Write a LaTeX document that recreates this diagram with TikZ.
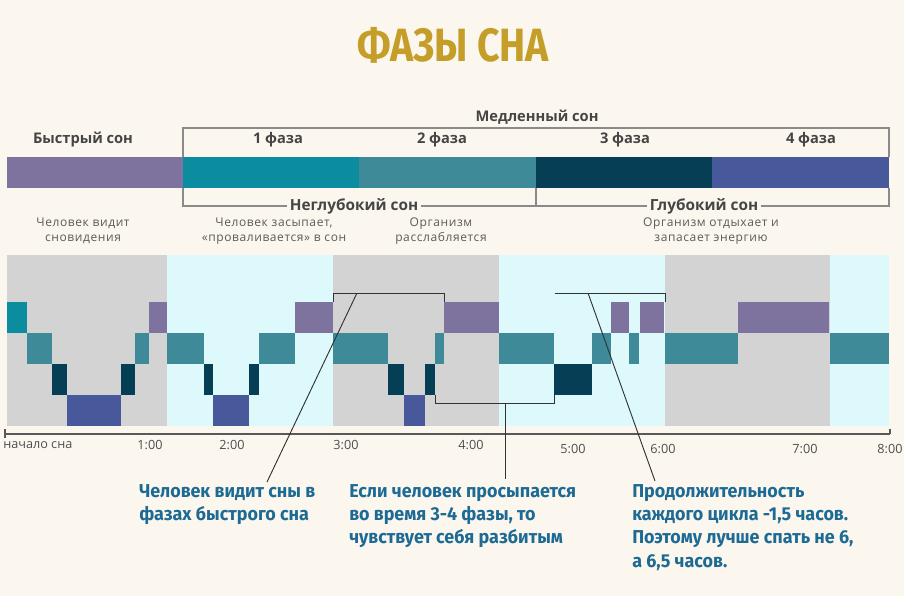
\documentclass[tikz,border=0pt]{standalone}
\usepackage{fontspec}
\setmainfont{Open Sans}
\newfontfamily\titlefont[FakeStretch=0.84]{Fira Sans}
\newfontfamily\callfont[FakeStretch=0.96]{Fira Sans}
\definecolor{bgc}{HTML}{FCF7EE}
\definecolor{titlec}{HTML}{C59E2A}
\definecolor{headc}{HTML}{454545}
\definecolor{descc}{HTML}{5A5A5A}
\definecolor{timec}{HTML}{4E4E4E}
\definecolor{callc}{HTML}{1D6A94}
\definecolor{grayb}{HTML}{D3D3D3}
\definecolor{cyanb}{HTML}{DDF9FC}
\definecolor{pu}{HTML}{7E739F}
\definecolor{ta}{HTML}{0C8D9F}
\definecolor{tb}{HTML}{3F8A99}
\definecolor{dk}{HTML}{063E55}
\definecolor{bl}{HTML}{48599B}
\definecolor{brkc}{HTML}{8A8A8A}
\begin{document}
\begin{tikzpicture}[x=0.75pt,y=-0.75pt,
  titlestyle/.style={font=\titlefont\bfseries\fontsize{35}{40}\selectfont, text=titlec, inner sep=0},
  headstyle/.style={font=\bfseries\fontsize{11}{13}\selectfont, text=headc, inner sep=0},
  gapstyle/.style={font=\bfseries\fontsize{11.5}{13}\selectfont, text=headc, fill=bgc, inner xsep=2pt, inner ysep=1pt},
  descstyle/.style={font=\addfontfeature{LetterSpace=5}\fontsize{9}{11.25}\selectfont, text=descc, align=center, inner sep=0},
  timestyle/.style={font=\fontsize{9.5}{11}\selectfont, text=timec, inner sep=0},
  callstyle/.style={font=\callfont\bfseries\fontsize{14}{17.5}\selectfont, text=callc, align=left, inner sep=0, anchor=north west},
  brk/.style={draw=brkc, line width=0.9pt},
  callline/.style={draw=black!80, line width=0.7pt},
  axisline/.style={draw=black!65, line width=0.8pt}]
\fill[bgc] (0,0) rectangle (904,596);
\useasboundingbox (0,0) rectangle (904,596);

% title
\node[titlestyle] (title) at (453,45) {ФАЗЫ СНА};

% top bar
\fill[pu] (7,157) rectangle (183,188);
\fill[ta] (183,157) rectangle (359,188);
\fill[tb] (359,157) rectangle (536,188);
\fill[dk] (536,157) rectangle (712,188);
\fill[bl] (712,157) rectangle (889,188);

% brackets
\draw[brk] (183,157) -- (183,128) -- (889,128) -- (889,157);
\draw[brk] (183,188) -- (183,206) -- (889,206) -- (889,188);
\draw[brk] (536,188) -- (536,206);

% headings
\node[headstyle] (hmed) at (537,117) {Медленный сон};
\node[headstyle] (hfast) at (83,140) {Быстрый сон};
\node[headstyle] (h1) at (278,140) {1 фаза};
\node[headstyle] (h2) at (442,140) {2 фаза};
\node[headstyle] (h3) at (625,140) {3 фаза};
\node[headstyle] (h4) at (811,140) {4 фаза};
\node[gapstyle] (hshallow) at (354,206) {Неглубокий сон};
\node[gapstyle] (hdeep) at (704,206) {Глубокий сон};

% descriptions
\node[descstyle] (d0) at (83,231) {Человек видит\\сновидения};
\node[descstyle] (d1) at (274,231) {Человек засыпает,\\«проваливается» в сон};
\node[descstyle] (d2) at (441,231) {Организм\\расслабляется};
\node[descstyle] (d3) at (711,231) {Организм отдыхает и\\запасает энергию};

% chart backgrounds
\fill[grayb] (7,255) rectangle (167,426);
\fill[cyanb] (167,255) rectangle (333,426);
\fill[grayb] (333,255) rectangle (499,426);
\fill[cyanb] (499,255) rectangle (665,426);
\fill[grayb] (665,255) rectangle (830,426);
\fill[cyanb] (830,255) rectangle (889,426);

% hypnogram blocks: x1/x2/level/colour
\foreach \xa/\xb/\lv/\cl in {7/27/1/ta, 27/52/2/tb, 52/67/3/dk, 67/121/4/bl, 121/135/3/dk, 135/149/2/tb, 149/167/1/pu,
  167/204/2/tb, 204/213/3/dk, 213/249/4/bl, 249/259/3/dk, 259/295/2/tb, 295/333/1/pu,
  333/388/2/tb, 388/404/3/dk, 404/425/4/bl, 425/435/3/dk, 435/444/2/tb, 444/499/1/pu,
  499/554/2/tb, 554/592/3/dk, 592/611/2/tb, 611/629/1/pu, 629/639/2/tb, 640/664/1/pu,
  665/738/2/tb, 738/829/1/pu, 830/889/2/tb}
  \fill[\cl] (\xa,{271+31*\lv}) rectangle (\xb,{302+31*\lv});

% axis
\coordinate (ax0) at (5,434);
\coordinate (ax1) at (890,434);
\draw[axisline] (ax0) -- (ax1);
\draw[axisline] (5,429) -- (5,438);
\draw[axisline] (890,429) -- (890,434);
\node[timestyle, anchor=west] (t0) at (3,445) {начало сна};
\node[timestyle] (t1) at (150,445) {1:00};
\node[timestyle] (t2) at (232,445) {2:00};
\node[timestyle] (t3) at (346,445) {3:00};
\node[timestyle] (t4) at (471,445) {4:00};
\node[timestyle] (t5) at (573,449) {5:00};
\node[timestyle] (t6) at (663,449) {6:00};
\node[timestyle] (t7) at (805,449) {7:00};
\node[timestyle] (t8) at (890,449) {8:00};

% callout texts
\node[callstyle] (c1) at (139,484) {Человек видит сны в\\фазах быстрого сна};
\node[callstyle] (c2) at (349,484) {Если человек просыпается\\во время 3-4 фазы, то\\чувствует себя разбитым};
\node[callstyle] (c3) at (632,484) {Продолжительность\\каждого цикла -1,5 часов.\\Поэтому лучше спать не 6,\\а 6,5 часов.};

% callout brackets and lines
\coordinate (k1) at (357,293);
\coordinate (e1) at (267,482);
\draw[callline] (333,302) -- (333,293) -- (444,293) -- (444,302);
\draw[callline] (k1) -- (e1);
\coordinate (k2) at (505,403);
\coordinate (e2) at (505,479);
\draw[callline] (435,395) -- (435,403) -- (554,403) -- (554,395);
\draw[callline] (k2) -- (e2);
\coordinate (k3) at (588,293);
\coordinate (e3) at (655,481);
\draw[callline] (555,293) -- (665,293) -- (665,302);
\draw[callline] (k3) -- (e3);
\end{tikzpicture}
\end{document}
